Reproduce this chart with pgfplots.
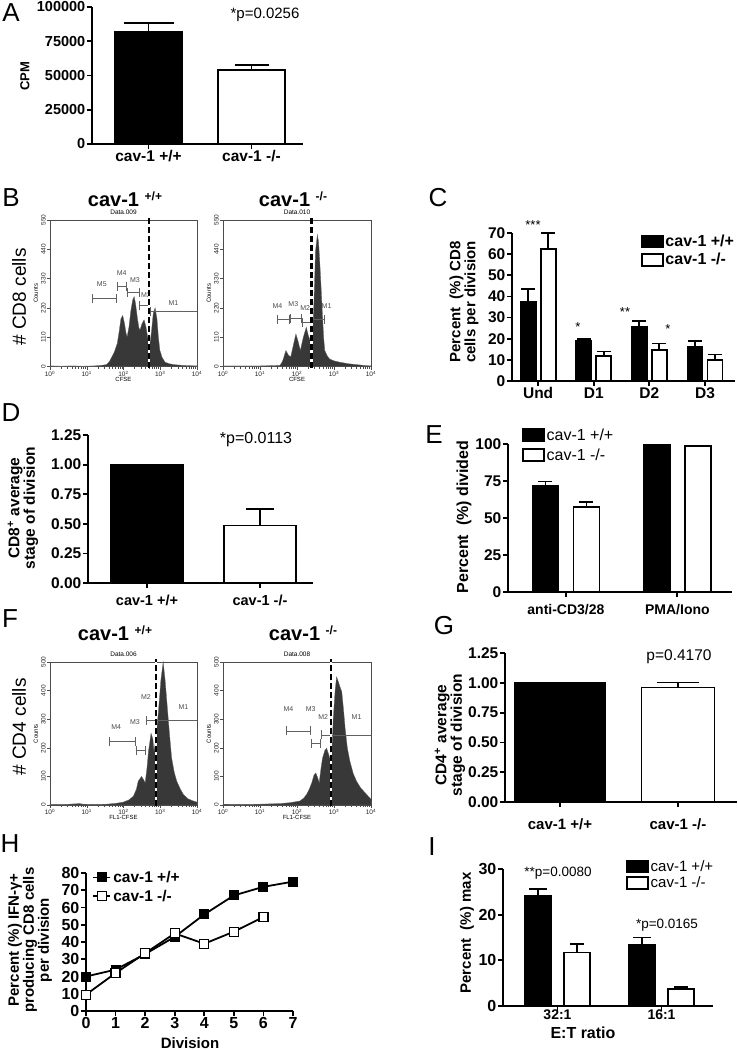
\documentclass[border=0pt]{standalone}
\usepackage{fontspec}
\setmainfont{Liberation Sans}
\usepackage{pgfplots}
\pgfplotsset{compat=1.18}
\usetikzlibrary{arrows.meta}

\newcommand{\fs}[1]{\fontsize{#1}{#1}\selectfont}

\tikzset{glab/.style={font=\fs{7}, text=black!70, inner sep=0pt},
         htitle/.style={font=\bfseries\fs{20}, inner sep=0pt}}

\pgfplotsset{
  prism/.style={
    scale only axis, clip=false,
    axis x line*=bottom, axis y line*=left,
    axis line style={line width=1.8pt},
    major tick style={line width=1.8pt, black},
    major tick length=5pt, tick align=outside,
    ymin=0, scaled y ticks=false,
    /pgf/number format/assume math mode=true,
    /pgf/number format/1000 sep={},
    /pgf/number format/fixed,
    ticklabel style={font=\bfseries\fs{15.5}, inner sep=1.5pt},
    legend cell align=left,
  },
  sqleg/.style={
    legend image code/.code={\draw[##1, line width=1.4pt] (0pt,-6pt) rectangle (21pt,6pt);},
  },
  barbase/.style={draw=black, line width=1.8pt,
    error bars/y dir=plus, error bars/y explicit,
    error bars/error bar style={line width=1.8pt, black}},
  bk/.style={ybar, bar shift=0pt, fill=black, barbase},
  wh/.style={ybar, bar shift=0pt, fill=white, barbase},
  bkg/.style={fill=black, barbase},
  whg/.style={fill=white, barbase},
  cap/.style={error bars/error mark options={rotate=90, line width=1.8pt, black, mark size=#1}},
  hist/.style={
    scale only axis, clip=false,
    xmin=0, xmax=4, ymin=0,
    axis line style={line width=0.6pt, black!70},
    tick style={black!70, line width=0.5pt},
    tick align=outside, major tick length=3pt, minor tick length=1.8pt,
    xtick={0,1,2,3,4},
    xticklabels={10\textsuperscript{0},10\textsuperscript{1},10\textsuperscript{2},10\textsuperscript{3},10\textsuperscript{4}},
    minor xtick={0.301,0.477,0.602,0.699,0.778,0.845,0.903,0.954,
                 1.301,1.477,1.602,1.699,1.778,1.845,1.903,1.954,
                 2.301,2.477,2.602,2.699,2.778,2.845,2.903,2.954,
                 3.301,3.477,3.602,3.699,3.778,3.845,3.903,3.954},
    xtick pos=lower, ytick pos=left,
    /pgf/number format/assume math mode=true,
    ticklabel style={font=\fs{6.5}, inner sep=1pt, text=black!85},
    yticklabel style={rotate=90, anchor=south},
    ylabel={Counts},
    label style={font=\fs{6}, inner sep=1pt},
    ylabel shift=1pt, xlabel shift=-1.5pt,
    title style={font=\fs{6.5}, inner sep=0.5pt, yshift=-1pt},
  },
  histfill/.style={fill=black!78, draw=black!62, line width=0.3pt},
  gate/.style={black!62, line width=0.8pt, arrows={Bar[width=9pt]-Bar[width=9pt]}},
  gate1/.style={black!62, line width=0.8pt, arrows={Bar[width=9pt]-}},
  dashw/.style={white, line width=2.2pt},
  dashb/.style={black, line width=2.2pt, dash pattern=on 6pt off 3pt},
}

\begin{document}
\begin{tikzpicture}
\useasboundingbox (0,0) rectangle (737pt,-1050pt);

% ================= A
\begin{axis}[prism, at={(92pt,-144pt)}, anchor=south west, width=211pt, height=137pt,
  xmin=-0.549, xmax=1.5, ymax=100000, ytick={0,25000,50000,75000,100000},
  xtick={0,1}, xticklabels={cav-1 +/+,cav-1 -/-},
  yticklabel style={font=\bfseries\fs{14.5}}]
\addplot[bk, bar width=67pt, cap=25pt] coordinates {(0,81800) +- (0,6800)};
\addplot[wh, bar width=67pt, cap=17pt] coordinates {(1,53900) +- (0,3600)};
\end{axis}
\node[font=\bfseries\fs{13}, rotate=90] at (25pt,-76pt) {CPM};
\node[font=\fs{15}] at (265pt,-15pt) {*p=0.0256};

% ================= B
\node[htitle] at (125pt,-199pt) {cav-1~\raisebox{6pt}{\fs{12}+/+}};
\node[htitle] at (293pt,-199pt) {cav-1~\raisebox{6pt}{\fs{12}-/-}};
\node[font=\fs{19}, rotate=90] at (19pt,-297pt) {\# CD8 cells};

\begin{axis}[hist, at={(50pt,-366.7pt)}, anchor=south west, width=147pt, height=146.7pt,
  ymax=550, ytick={0,110,220,330,440,550}, title={Data.009}, xlabel={CFSE}]
\addplot[histfill] coordinates {
 (0,3) (0.3,2) (0.6,3) (0.9,2) (1.2,3) (1.4,5) (1.54,8) (1.62,20) (1.68,36) (1.75,55)
 (1.83,87) (1.88,130) (1.93,180) (1.98,192) (2.03,160) (2.07,125) (2.10,113) (2.15,150)
 (2.20,210) (2.25,250) (2.29,263) (2.33,235) (2.38,180) (2.42,145) (2.45,138) (2.50,160)
 (2.56,176) (2.61,150) (2.66,110) (2.72,87) (2.76,130) (2.81,200) (2.86,221) (2.91,180)
 (2.95,110) (2.99,61) (3.05,35) (3.13,17) (3.25,11) (3.36,8) (3.6,5) (3.8,4) (4,3)} \closedcycle;
\addplot[gate] coordinates {(1.13,256) (1.81,256)};
\addplot[gate] coordinates {(1.81,302) (2.10,302)};
\addplot[gate] coordinates {(2.10,279) (2.43,279)};
\addplot[gate] coordinates {(2.43,228) (2.72,228)};
\addplot[gate1] coordinates {(2.72,206) (4.0,206)};
\node[glab] at (axis cs:1.41,311) {M5};
\node[glab] at (axis cs:1.95,350) {M4};
\node[glab] at (axis cs:2.31,326) {M3};
\node[glab] at (axis cs:2.61,270) {M2};
\node[glab] at (axis cs:3.36,240) {M1};
\addplot[dashw] coordinates {(2.70,-5) (2.70,562)};
\addplot[dashb] coordinates {(2.70,-5) (2.70,562)};
\end{axis}

\begin{axis}[hist, at={(223pt,-366.7pt)}, anchor=south west, width=148pt, height=146.7pt,
  ymax=550, ytick={0,110,220,330,440,550}, title={Data.010}, xlabel={CFSE}]
\addplot[histfill] coordinates {
 (0,3) (0.5,3) (1.0,3) (1.3,4) (1.54,5) (1.60,18) (1.63,29) (1.70,61) (1.76,45) (1.83,36)
 (1.90,80) (1.97,123) (2.03,95) (2.09,61) (2.17,110) (2.25,148) (2.31,115) (2.39,87)
 (2.43,150) (2.46,250) (2.50,432) (2.55,495) (2.58,470) (2.61,407) (2.65,300) (2.68,215)
 (2.72,110) (2.75,61) (2.82,40) (2.88,29) (3.0,22) (3.15,17) (3.4,11) (3.6,8) (3.8,5) (4,3)} \closedcycle;
\addplot[gate] coordinates {(1.47,177) (1.81,177)};
\addplot[gate] coordinates {(1.81,180) (2.13,180)};
\addplot[gate] coordinates {(2.13,166) (2.40,166)};
\addplot[gate] coordinates {(2.40,177) (2.76,177)};
\node[glab] at (axis cs:1.47,228) {M4};
\node[glab] at (axis cs:1.90,234) {M3};
\node[glab] at (axis cs:2.22,221) {M2};
\node[glab] at (axis cs:2.80,228) {M1};
\addplot[dashw] coordinates {(2.39,-5) (2.39,562)};
\addplot[dashb] coordinates {(2.39,-5) (2.39,562)};
\end{axis}

% ================= C
\begin{axis}[prism, at={(512pt,-381pt)}, anchor=south west, width=223pt, height=148pt,
  ybar=5pt, bar width=15pt, sqleg,
  xmin=-0.47, xmax=3.54, ymax=70, ytick={0,10,...,70},
  xtick={0,1,2,3}, xticklabels={Und,D1,D2,D3},
  legend style={at={(0.578,1.0)}, anchor=north west, draw=none, fill=none,
    font=\bfseries\fs{16}, inner sep=0pt, row sep=1pt}]
\addplot[bkg, cap=7pt] coordinates {(0,37.4) +- (0,6.3) (1,19.2) +- (0,0.5) (2,25.5) +- (0,2.7) (3,16.1) +- (0,2.8)};
\addplot[whg, cap=7pt] coordinates {(0,62.3) +- (0,7.7) (1,11.7) +- (0,2.3) (2,14.5) +- (0,3.2) (3,10.1) +- (0,2.4)};
\legend{cav-1 +/+,cav-1 -/-}
\end{axis}
\node[font=\bfseries\fs{15}, rotate=90, align=center] at (464pt,-302pt) {Percent\ \ (\%) CD8\\cells per division};
\node[font=\fs{13}] at (533pt,-225pt) {***};
\node[font=\fs{13}] at (578pt,-327pt) {*};
\node[font=\fs{13}] at (625pt,-312pt) {**};
\node[font=\fs{13}] at (668pt,-329pt) {*};

% ================= D
\begin{axis}[prism, at={(88pt,-583pt)}, anchor=south west, width=225pt, height=148pt,
  xmin=-0.522, xmax=1.469, ymax=1.25, ytick={0,0.25,...,1.25},
  yticklabel style={/pgf/number format/.cd, fixed, fixed zerofill, precision=2},
  xtick={0,1}, xticklabels={cav-1 +/+,cav-1 -/-},
  xticklabel style={font=\bfseries\fs{14.5}, yshift=-5pt}]
\addplot[bk, bar width=72pt, cap=14pt] coordinates {(0,1.0) +- (0,0)};
\addplot[wh, bar width=72pt, cap=14pt] coordinates {(1,0.485) +- (0,0.14)};
\end{axis}
\node[font=\bfseries\fs{15.5}, rotate=90, align=center] at (23pt,-508pt) {CD8\textsuperscript{+} average\\stage of division};
\node[font=\fs{16}] at (256pt,-440pt) {*p=0.0113};

% ================= E
\begin{axis}[prism, at={(508pt,-592pt)}, anchor=south west, width=224pt, height=148pt,
  ybar=15pt, bar width=26pt, sqleg,
  xmin=-0.52, xmax=1.49, ymax=100, ytick={0,25,...,100},
  xtick={0,1}, xticklabels={anti-CD3/28,PMA/Iono},
  xticklabel style={font=\bfseries\fs{14}, yshift=-6pt},
  legend style={at={(0.0625,1.12)}, anchor=north west, draw=none, fill=none,
    font=\fs{16}, inner sep=0pt, row sep=3pt}]
\addplot[bkg, cap=7pt] coordinates {(0,71.7) +- (0,3.0) (1,99.5) +- (0,0)};
\addplot[whg, cap=7pt] coordinates {(0,57.2) +- (0,3.7) (1,98.4) +- (0,0)};
\legend{cav-1 +/+,cav-1 -/-}
\end{axis}
\node[font=\bfseries\fs{16}, rotate=90] at (464pt,-517pt) {Percent\ \ (\%) divided};

% ================= F
\node[htitle] at (115pt,-633pt) {cav-1~\raisebox{6pt}{\fs{12}+/+}};
\node[htitle] at (303pt,-633pt) {cav-1~\raisebox{6pt}{\fs{12}-/-}};
\node[font=\fs{19}, rotate=90] at (19pt,-727pt) {\# CD4 cells};

\begin{axis}[hist, at={(50pt,-805pt)}, anchor=south west, width=147pt, height=143pt,
  ymax=500, ytick={0,100,...,500}, title={Data.006}, xlabel={FL1-CFSE}]
\addplot[histfill] coordinates {
 (0,2) (0.4,2) (0.8,5) (0.9,3) (1.2,2) (1.54,3) (1.8,6) (1.99,10) (2.15,18) (2.27,31)
 (2.35,55) (2.40,83) (2.49,100) (2.55,88) (2.59,78) (2.64,130) (2.68,188) (2.75,251)
 (2.80,230) (2.83,188) (2.88,230) (2.95,326) (3.02,440) (3.08,500) (3.13,440) (3.18,361)
 (3.25,250) (3.31,164) (3.38,115) (3.45,83) (3.55,55) (3.63,37) (3.75,22) (3.90,14) (4,10)} \closedcycle;
\addplot[gate] coordinates {(1.61,222) (2.34,222)};
\addplot[gate] coordinates {(2.34,191) (2.61,191)};
\addplot[gate1] coordinates {(2.61,295) (4.0,295)};
\node[glab] at (axis cs:1.80,274) {M4};
\node[glab] at (axis cs:2.31,289) {M3};
\node[glab] at (axis cs:2.61,376) {M2};
\node[glab] at (axis cs:3.63,341) {M1};
\addplot[dashw] coordinates {(2.88,-5) (2.88,510)};
\addplot[dashb] coordinates {(2.88,-5) (2.88,510)};
\end{axis}

\begin{axis}[hist, at={(223pt,-805pt)}, anchor=south west, width=148pt, height=143pt,
  ymax=500, ytick={0,100,...,500}, title={Data.008}, xlabel={FL1-CFSE}]
\addplot[histfill] coordinates {
 (0,3) (0.5,2) (1.0,3) (1.54,5) (1.8,8) (2.08,14) (2.18,24) (2.26,37) (2.33,55) (2.40,78)
 (2.46,105) (2.51,112) (2.56,95) (2.60,78) (2.65,130) (2.69,164) (2.75,190) (2.80,199)
 (2.86,175) (2.91,153) (2.95,210) (2.98,303) (3.03,400) (3.07,448) (3.12,430) (3.17,410)
 (3.21,396) (3.26,330) (3.30,269) (3.36,200) (3.43,153) (3.52,110) (3.61,83) (3.72,60)
 (3.84,43) (3.93,30) (4,20)} \closedcycle;
\addplot[gate] coordinates {(1.70,259) (2.37,259)};
\addplot[gate] coordinates {(2.37,216) (2.65,216)};
\addplot[gate1] coordinates {(2.65,245) (4.0,245)};
\node[glab] at (axis cs:1.77,336) {M4};
\node[glab] at (axis cs:2.37,336) {M3};
\node[glab] at (axis cs:2.71,307) {M2};
\node[glab] at (axis cs:3.61,307) {M1};
\addplot[dashw] coordinates {(2.91,-5) (2.91,510)};
\addplot[dashb] coordinates {(2.91,-5) (2.91,510)};
\end{axis}

% ================= G
\begin{axis}[prism, at={(505pt,-802pt)}, anchor=south west, width=232pt, height=149pt,
  xmin=-0.466, xmax=1.5, ymax=1.25, ytick={0,0.25,...,1.25},
  yticklabel style={/pgf/number format/.cd, fixed, fixed zerofill, precision=2},
  xtick={0,1}, xticklabels={cav-1 +/+,cav-1 -/-},
  xticklabel style={font=\bfseries\fs{15}, yshift=-10pt}]
\addplot[bk, bar width=91pt, cap=14pt] coordinates {(0,1.0) +- (0,0)};
\addplot[wh, bar width=73pt, cap=21pt] coordinates {(1,0.961) +- (0,0.042)};
\end{axis}
\node[font=\bfseries\fs{15.5}, rotate=90, align=center] at (450pt,-735pt) {CD4\textsuperscript{+} average\\stage of division};
\node[font=\fs{15.5}] at (679pt,-657pt) {p=0.4170};

% ================= H
\begin{axis}[prism, at={(86pt,-1011pt)}, anchor=south west, width=207pt, height=138pt,
  xmin=0, xmax=7, ymax=80, ytick={0,10,...,80}, xtick={0,...,7},
  ticklabel style={font=\bfseries\fs{16}},
  legend style={at={(0.03,1.03)}, anchor=north west, draw=none, fill=none,
    font=\bfseries\fs{15.5}, inner sep=0pt, row sep=2pt}]
\addplot[black, line width=1.8pt, mark=square*, mark size=4.5pt,
  mark options={solid, fill=black, line width=1pt}]
  coordinates {(0,20) (1,24) (2,33) (3,43) (4,56) (5,67) (6,72) (7,75)};
\addplot[black, line width=1.8pt, mark=square*, mark size=4.5pt,
  mark options={solid, fill=white, line width=1.2pt}]
  coordinates {(0,9.5) (1,22) (2,33.5) (3,45) (4,39) (5,46) (6,54.5)};
\legend{cav-1 +/+,cav-1 -/-}
\end{axis}
\node[font=\bfseries\fs{15}, rotate=90, align=center] at (30pt,-940pt)
  {Percent (\%) IFN-γ+\\producing CD8 cells\\per division};
\node[font=\bfseries\fs{15}] at (190pt,-1043pt) {Division};

% ================= I
\begin{axis}[prism, at={(503pt,-1006pt)}, anchor=south west, width=210pt, height=137pt,
  ybar=13pt, bar width=26pt, sqleg,
  xmin=-0.524, xmax=1.495, ymax=30, ytick={0,10,20,30},
  ticklabel style={font=\bfseries\fs{16}},
  xtick={0,1}, xticklabels={32:1,16:1},
  xticklabel style={font=\bfseries\fs{14}, yshift=3pt},
  legend style={at={(0.586,1.08)}, anchor=north west, draw=none, fill=none,
    font=\fs{15}, inner sep=0pt, row sep=0pt}]
\addplot[bkg, cap=9pt] coordinates {(0,24.1) +- (0,1.6) (1,13.4) +- (0,1.6)};
\addplot[whg, cap=7pt] coordinates {(0,11.7) +- (0,1.8) (1,3.7) +- (0,0.4)};
\legend{cav-1 +/+,cav-1 -/-}
\end{axis}
\node[font=\bfseries\fs{15}, rotate=90] at (467pt,-933pt) {Percent\ \ (\%) max};
\node[font=\bfseries\fs{16}] at (583pt,-1033pt) {E:T ratio};
\node[font=\fs{13.5}] at (558pt,-873pt) {**p=0.0080};
\node[font=\fs{13.5}] at (667pt,-925pt) {*p=0.0165};

% ================= panel letters
\foreach \l/\x/\y in {A/11/13, B/11/198, C/438/198, D/11/413, E/434/435,
                      F/10/619, G/444/626, H/10/844, I/432/847}
  \node[font=\fs{26}] at (\x pt,-\y pt) {\l};
\end{tikzpicture}
\end{document}
